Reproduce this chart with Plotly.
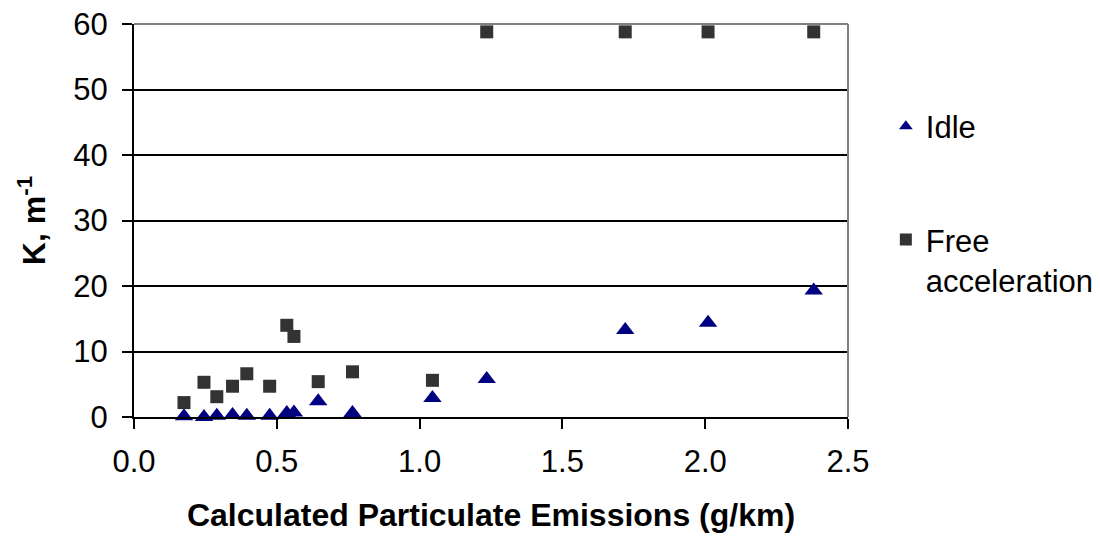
import plotly.graph_objects as go

emissions = [0.175, 0.245, 0.29, 0.345, 0.395, 0.475, 0.535, 0.56, 0.645, 0.765, 1.045, 1.235, 1.72, 2.01, 2.38]
idle_k = [0.1, 0.0, 0.2, 0.3, 0.2, 0.2, 0.6, 0.7, 2.4, 0.6, 2.9, 5.8, 13.3, 14.4, 19.3]
free_acc_k = [2.2, 5.3, 3.1, 4.7, 6.6, 4.7, 14.0, 12.3, 5.4, 6.9, 5.6, 58.8, 58.8, 58.8, 58.8]

x_ticks = [0.0, 0.5, 1.0, 1.5, 2.0, 2.5]
y_ticks = [0, 10, 20, 30, 40, 50, 60]

font_family = "Liberation Sans, Arial, sans-serif"

fig = go.Figure()
fig.add_trace(go.Scatter(
    x=emissions, y=idle_k, mode="markers", name="Idle", legendgroup="a",
    marker=dict(symbol="triangle-up", size=16, color="#000080"),
    cliponaxis=False,
))
fig.add_trace(go.Scatter(
    x=emissions, y=free_acc_k, mode="markers", name="Free<br>acceleration", legendgroup="b",
    marker=dict(symbol="square", size=13, color="#333333"),
    cliponaxis=False,
))

fig.update_layout(
    width=1100, height=536,
    margin=dict(l=126, r=260, t=16, b=127, autoexpand=False),
    paper_bgcolor="white", plot_bgcolor="white",
    font=dict(family=font_family, size=31, color="black"),
    showlegend=True,
    legend=dict(x=1.053, y=0.8076, xanchor="left", yanchor="top",
                font=dict(size=31), tracegroupgap=70, traceorder="grouped",
                valign="top", itemsizing="constant", bgcolor="rgba(0,0,0,0)"),
    xaxis=dict(
        range=[0, 2.5], tickvals=x_ticks, tickformat=".1f",
        showline=True, linecolor="black", linewidth=2,
        ticks="outside", ticklen=10, tickwidth=2, tickcolor="black",
        showgrid=False, zeroline=False, automargin=False,
        tickfont=dict(size=31), ticklabelstandoff=6,
        ticklabeloverflow="allow",
        title=dict(text="<b>Calculated Particulate Emissions (g/km)</b>",
                   font=dict(size=32), standoff=25),
    ),
    yaxis=dict(
        range=[0, 60], tickvals=y_ticks,
        showline=True, linecolor="black", linewidth=2,
        ticks="outside", ticklen=10, tickwidth=2, tickcolor="black",
        showgrid=True, gridcolor="black", gridwidth=2,
        zeroline=False, automargin=False,
        tickfont=dict(size=31), ticklabelstandoff=8,
        ticklabeloverflow="allow",
        title=dict(text="<b>K, m<sup>-1</sup></b>", font=dict(size=32), standoff=18),
    ),
    shapes=[
        dict(type="line", xref="paper", yref="paper", x0=0, x1=1, y0=1, y1=1,
             line=dict(color="#808080", width=2)),
        dict(type="line", xref="paper", yref="paper", x0=1, x1=1, y0=0, y1=1,
             line=dict(color="#808080", width=2)),
    ],
)

fig.write_html("out.html")
